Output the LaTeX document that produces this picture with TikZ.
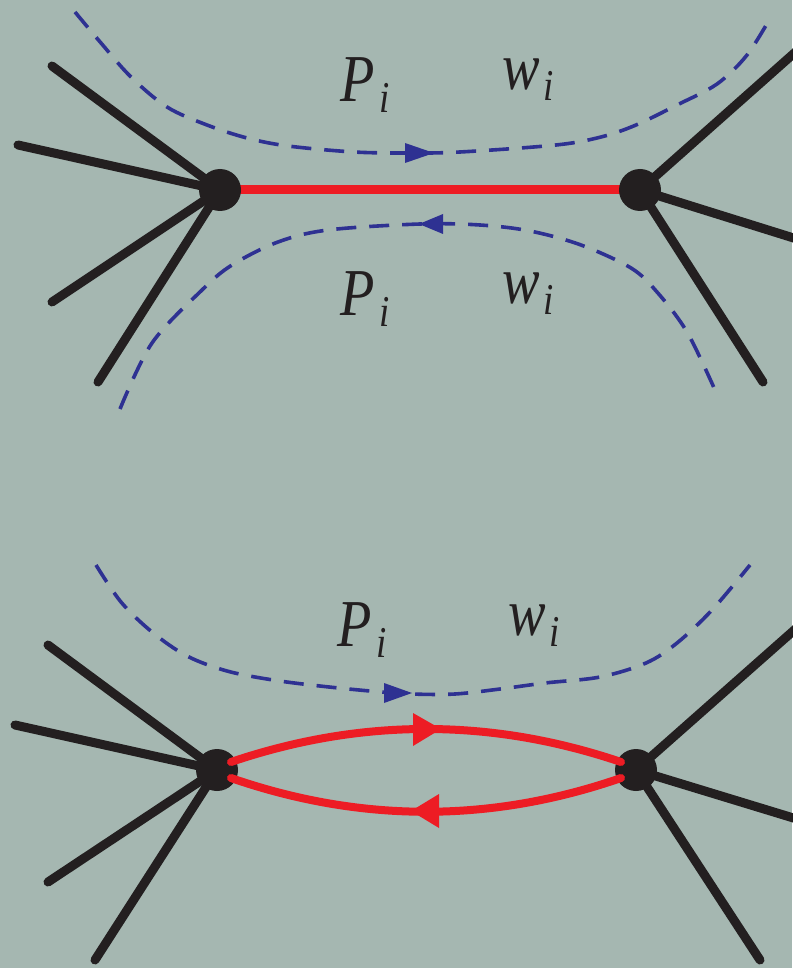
\documentclass[tikz,border=0pt]{standalone}
\usepackage{fontspec}
\setmainfont{Liberation Serif}
\usetikzlibrary{calc}
\definecolor{bgc}{RGB}{165,183,177}
\definecolor{blk}{RGB}{35,31,32}
\definecolor{rd}{RGB}{237,28,36}
\definecolor{bl}{RGB}{46,49,146}
\newcommand\mylab[3]{\scalebox{0.84}[1]{\itshape #1\kern#3\raisebox{-11pt}{\fontsize{44}{44}\selectfont #2}}}
\begin{document}
\begin{tikzpicture}[x=1pt,y=-1pt,
  dot/.style={circle,fill=blk,minimum size=42pt,inner sep=0pt},
  leg/.style={draw=blk,line width=9pt,line cap=round},
  redline/.style={draw=rd,line width=9pt},
  redcurve/.style={draw=rd,line width=8pt,line cap=round},
  dsh/.style={draw=bl,line width=3.6pt,dash pattern=on 20pt off 13pt},
  bltip/.style={fill=bl},
  rdtip/.style={fill=rd},
  lab/.style={inner sep=0pt,anchor=base west,text=blk,font=\fontsize{67}{67}\selectfont}]
\fill[bgc] (0,0) rectangle (792,968);
\useasboundingbox (0,0) rectangle (792,968);

% ---------- top diagram ----------
\coordinate (a1) at (52,66);
\coordinate (a2) at (18,145);
\coordinate (a3) at (52,302);
\coordinate (a4) at (98,382);
\coordinate (b1) at (800,48);
\coordinate (b2) at (800,240);
\coordinate (b3) at (763,382);
\coordinate (L1p) at (220,190);
\coordinate (R1p) at (640,190);
\draw[leg] (L1p) -- (a1);
\draw[leg] (L1p) -- (a2);
\draw[leg] (L1p) -- (a3);
\draw[leg] (L1p) -- (a4);
\draw[leg] (R1p) -- (b1);
\draw[leg] (R1p) -- (b2);
\draw[leg] (R1p) -- (b3);
\draw[redline] (L1p) -- (R1p);
\node[dot] (L1) at (L1p) {};
\node[dot] (R1) at (R1p) {};

\draw[dsh] plot[smooth,tension=0.55] coordinates {(75,12) (101,43) (131,77) (167,107) (207,125) (247,138) (288,146) (354,152) (410,153) (460,152) (556,145) (601,137) (636,125) (677,105) (717,84) (747,55) (772,15)};
\fill[bltip] (405,143) -- (434,153) -- (405,163) -- cycle;

\draw[dsh] plot[smooth,tension=0.55] coordinates {(120,409) (152,343) (202,290) (232,265) (278,242) (328,230) (420,224) (480,225) (530,231) (581,245) (631,268) (657,292) (687,332) (715,390)};
\fill[bltip] (443,214) -- (419,224) -- (443,234) -- cycle;

\node[lab] (p1) at (340,102) {\mylab{P}{i}{6pt}};
\node[lab] (w1) at (502,90) {\mylab{w}{i}{5pt}};
\node[lab] (p2) at (340,315) {\mylab{P}{i}{6pt}};
\node[lab] (w2) at (502,303) {\mylab{w}{i}{5pt}};

% ---------- bottom diagram ----------
\coordinate (c1) at (48,645);
\coordinate (c2) at (15,725);
\coordinate (c3) at (48,882);
\coordinate (c4) at (95,960);
\coordinate (d1) at (800,625);
\coordinate (d2) at (800,820);
\coordinate (d3) at (760,960);
\coordinate (L2p) at (217,770);
\coordinate (R2p) at (636,770);
\draw[leg] (L2p) -- (c1);
\draw[leg] (L2p) -- (c2);
\draw[leg] (L2p) -- (c3);
\draw[leg] (L2p) -- (c4);
\draw[leg] (R2p) -- (d1);
\draw[leg] (R2p) -- (d2);
\draw[leg] (R2p) -- (d3);
\node[dot] (L2) at (L2p) {};
\node[dot] (R2) at (R2p) {};
\coordinate (lu) at ($(L2)+(14,-8)$);
\coordinate (ru) at ($(R2)+(-15,-8)$);
\coordinate (ll) at ($(L2)+(14,8)$);
\coordinate (rl) at ($(R2)+(-15,8)$);
\draw[redcurve] (lu) .. controls (361,718) and (491,718) .. (ru);
\draw[redcurve] (rl) .. controls (491,823) and (361,823) .. (ll);
\fill[rdtip] (413,713) -- (441,729) -- (413,746) -- cycle;
\fill[rdtip] (439,794) -- (411,811) -- (439,828) -- cycle;

\draw[dsh] plot[smooth,tension=0.55] coordinates {(96,565) (121,602) (152,632) (187,656) (227,671) (273,680) (320,686) (370,691) (412,694) (455,694) (500,689) (545,683) (600,677) (646,663) (677,643) (712,610) (750,565)};
\fill[bltip] (384,683) -- (412,693) -- (384,703) -- cycle;

\node[lab] (p3) at (337,646) {\mylab{P}{i}{6pt}};
\node[lab] (w3) at (508,635) {\mylab{w}{i}{5pt}};
\end{tikzpicture}
\end{document}
